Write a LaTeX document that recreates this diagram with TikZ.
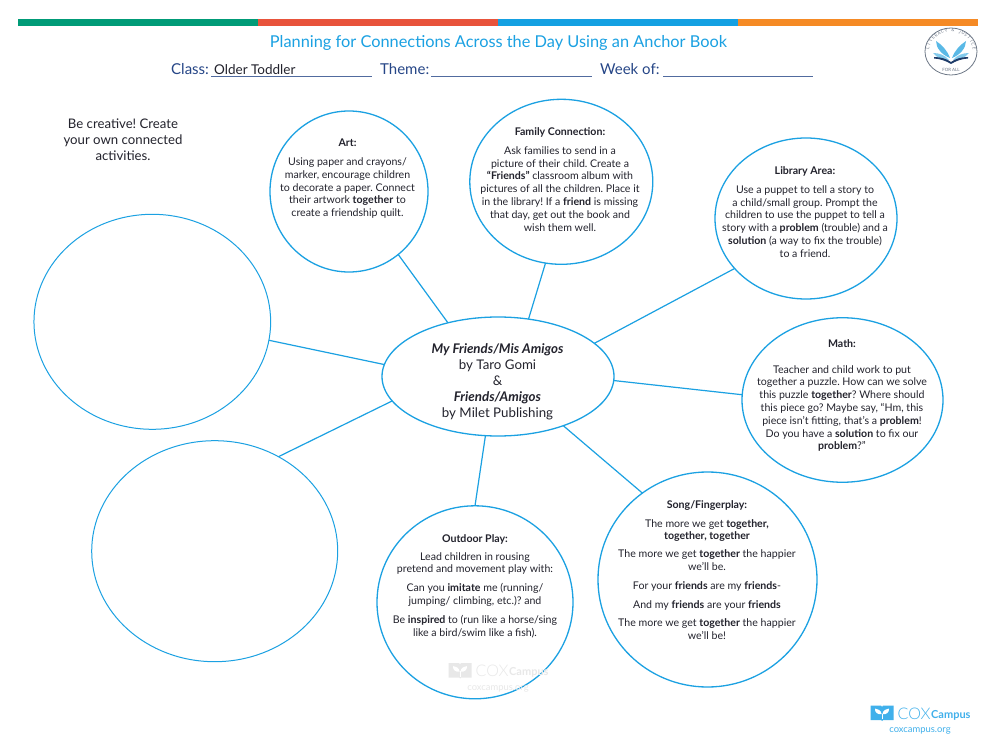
\documentclass[tikz,border=0pt]{standalone}
\usepackage{fontspec}
\setmainfont{Lato}
\newfontfamily\lightfont{Lato Light}
\usepackage{xcolor}
\usetikzlibrary{shapes.geometric}
\definecolor{BarGreen}{RGB}{0, 155, 119}
\definecolor{BarRed}{RGB}{232, 83, 59}
\definecolor{BarBlue}{RGB}{20, 160, 226}
\definecolor{BarOrange}{RGB}{245, 138, 37}
\definecolor{BubbleBlue}{RGB}{27, 161, 226}
\definecolor{FormBlue}{RGB}{38, 70, 135}
\definecolor{DarkText}{RGB}{35, 35, 45}
\definecolor{SealGray}{RGB}{110, 120, 135}
\definecolor{SealSky}{RGB}{90, 185, 230}
\definecolor{SealNavy}{RGB}{30, 60, 105}
\definecolor{LogoBlue}{RGB}{64, 176, 235}
\definecolor{MarkGray}{RGB}{232, 232, 232}
\newcommand{\boldword}[1]{\textbf{#1}}
\tikzset{
  bubble/.style={draw=BubbleBlue, line width=1.3pt, ellipse, inner sep=0pt, outer sep=0pt},
  blankbubble/.style={bubble, line width=1pt},
  spoke/.style={draw=BubbleBlue, line width=1.2pt},
  colorbar/.style={inner sep=0pt, minimum height=7pt, minimum width=240pt},
  bubbletext/.style={align=center, text=DarkText, inner sep=0pt, font=\fontsize{10.6}{12.8}\selectfont\frenchspacing},
  formtext/.style={anchor=base west, inner sep=0pt, text=FormBlue, font=\fontsize{15}{18}\selectfont},
  formline/.style={draw=FormBlue!80, line width=0.9pt},
  pics/coxmark/.style={code={
    \fill[#1] (-11.5,-8) -- (-1,-8) -- (0,-6.5) -- (1,-8) -- (11.5,-8) -- (11.5,6.5) -- (1,6.5) -- (0,7.5) -- (-1,6.5) -- (-11.5,6.5) -- cycle;
    \fill[white] (-0.4,0.5) .. controls (-1,-3) and (-4,-5) .. (-7,-5) .. controls (-7.5,-1) and (-4,1.5) .. cycle;
    \fill[white] (0.4,0.5) .. controls (1,-3) and (4,-5) .. (7,-5) .. controls (7.5,-1) and (4,1.5) .. cycle;
    \draw[white, line width=1pt] (0,0) -- (0,5.5);
    \node[anchor=base west, inner sep=0pt, text=#1, font=\lightfont\fontsize{16}{16}\selectfont] at (15.5,5.5) {COX};
    \node[anchor=base west, inner sep=0pt, text=#1, font=\bfseries\fontsize{11}{12}\selectfont] at (49,4.5) {Campus};
    \node[anchor=base, inner sep=0pt, text=#1, font=\fontsize{9.4}{12}\selectfont] at (38,19) {coxcampus.org};
  }}
}

\begin{document}
\begin{tikzpicture}[x=1pt, y=-1pt]
  \useasboundingbox[fill=white] (0,0) rectangle (994,754);

  % top stripe
  \node[colorbar, fill=BarGreen] (bargreen) at (138,22.5) {};
  \node[colorbar, fill=BarRed] (barred) at (378,22.5) {};
  \node[colorbar, fill=BarBlue] (barblue) at (618,22.5) {};
  \node[colorbar, fill=BarOrange] (barorange) at (858,22.5) {};

  % heading
  \node[inner sep=0pt, text=BubbleBlue, font=\fontsize{16.35}{20}\selectfont] (title) at (498.5,42.5) {Planning for Connections Across the Day Using an Anchor Book};
  \node[formtext] (classlabel) at (171,75) {Class:};
  \node[formtext, text=DarkText, font=\fontsize{13.5}{16}\selectfont] (classvalue) at (214,74.5) {Older Toddler};
  \node[formtext] (themelabel) at (380,75) {Theme:};
  \node[formtext] (weeklabel) at (600,75) {Week of:};
  \coordinate (classa) at (211,76);
  \coordinate (classb) at (372,76);
  \coordinate (themea) at (431,76);
  \coordinate (themeb) at (592,76);
  \coordinate (weeka) at (663,76);
  \coordinate (weekb) at (813,76);
  \draw[formline] (classa) -- (classb);
  \draw[formline] (themea) -- (themeb);
  \draw[formline] (weeka) -- (weekb);

  % seal
  \node[ellipse, draw=SealGray, line width=0.8pt, minimum width=52pt, minimum height=47pt, inner sep=0pt] (seal) at (951,51.5) {};
  \fill[SealSky] (950,58) .. controls (947,50) and (942,45) .. (936,41) .. controls (936,48) and (942,55) .. cycle;
  \fill[SealSky] (952,58) .. controls (955,50) and (960,45) .. (966,41) .. controls (966,48) and (960,55) .. cycle;
  \fill[SealSky!75] (949,60) .. controls (945,55) and (939,53) .. (933,53) .. controls (937,58) and (943,60) .. cycle;
  \fill[SealSky!75] (953,60) .. controls (957,55) and (963,53) .. (969,53) .. controls (965,58) and (959,60) .. cycle;
  \fill[SealNavy] (934,57) .. controls (941,57) and (947,59) .. (951,62) .. controls (955,59) and (961,57) .. (968,57) -- (968,58.5) .. controls (961,59) and (956,61) .. (951,64) .. controls (946,61) and (941,59) .. (934,58.5) -- cycle;
  \foreach \letter [count=\i] in {L,I,T,E,R,A,C,Y,{},\&,{},J,U,S,T,I,C,E} {
    \pgfmathsetmacro{\ang}{172-(\i-1)*9.6}
    \node[anchor=north, rotate=\ang-90, inner sep=1.2pt, text=SealGray, font=\fontsize{4.2}{5}\selectfont] at (seal.\ang) {\letter};
  }
  \node[inner sep=0pt, text=SealGray, font=\fontsize{4.4}{5}\selectfont] (sealfoot) at (951,70) {FOR ALL};

  % note
  \node[align=center, inner sep=0pt, text=DarkText, font=\fontsize{13.2}{16}\selectfont\frenchspacing] (note) at (123,139.5) {Be creative! Create\\your own connected\\activities.};

  % bubbles
  \node[bubble, minimum width=232pt, minimum height=119pt] (hub) at (498,376.5) {};
  \node[bubble, minimum width=158pt, minimum height=161pt] (art) at (349,191.5) {};
  \node[bubble, minimum width=183pt, minimum height=165pt] (family) at (561.3,181.8) {};
  \node[bubble, minimum width=182pt, minimum height=161pt] (library) at (806,218.5) {};
  \node[bubble, minimum width=201pt, minimum height=164.5pt] (math) at (842.5,400) {};
  \node[bubble, minimum width=219pt, minimum height=215pt] (song) at (707.5,579.5) {};
  \node[bubble, minimum width=196pt, minimum height=193pt] (outdoor) at (475,602.3) {};
  \node[blankbubble, minimum width=236.7pt, minimum height=215pt] (blanka) at (152.3,321.8) {};
  \node[blankbubble, minimum width=246pt, minimum height=221pt] (blankb) at (214.7,551.2) {};

  % spokes
  \draw[spoke] (hub.133.3) -- (art.-52.5);
  \draw[spoke] (hub.62.2) -- (family.259.5);
  \draw[spoke] (hub.19.8) -- (library.215.4);
  \draw[spoke] (hub.-2.6) -- (math.177.5);
  \draw[spoke] (hub.-37.3) -- (song.127.2);
  \draw[spoke] (hub.258.6) -- (outdoor.90);
  \draw[spoke] (hub.174.2) -- (blanka.-9.7);
  \draw[spoke] (hub.193.3) -- (blankb.56.3);

  % bubble texts
  \node[align=center, inner sep=0pt, text=DarkText, font=\fontsize{13.3}{16.1}\selectfont] (hubtext) at (497.5,381.5) {\textbf{\textit{My Friends/Mis Amigos}}\\by Taro Gomi\\\&\\\textbf{\textit{Friends/Amigos}}\\by Milet Publishing};
  \node[bubbletext] (arttext) at (347.5,178.5) {\textbf{Art:}\\[6.5pt]Using paper and crayons/\\marker, encourage children\\to decorate a paper. Connect\\their artwork \boldword{together} to\\create a friendship quilt.};
  \node[bubbletext] (familytext) at (560,179.5) {\textbf{Family Connection:}\\[6pt]Ask families to send in a\\picture of their child. Create a\\\boldword{“Friends”} classroom album with\\pictures of all the children. Place it\\in the library! If a \boldword{friend} is missing\\that day, get out the book and\\wish them well.};
  \node[bubbletext] (librarytext) at (805,212) {\textbf{Library Area:}\\[6pt]Use a puppet to tell a story to\\a child/small group. Prompt the\\children to use the puppet to tell a\\story with a \boldword{problem} (trouble) and a\\\boldword{solution} (a way to fix the trouble)\\to a friend.};
  \node[bubbletext] (mathtext) at (842,395.5) {\textbf{Math:}\\[13pt]Teacher and child work to put\\together a puzzle. How can we solve\\this puzzle \boldword{together}? Where should\\this piece go? Maybe say, “Hm, this\\piece isn’t fitting, that’s a \boldword{problem}!\\Do you have a \boldword{solution} to fix our\\\boldword{problem}?”};
  \node[bubbletext] (songtext) at (707,570) {\textbf{Song/Fingerplay:}\\[6pt]The more we get \boldword{together,}\\\boldword{together, together}\\[5pt]The more we get \boldword{together} the happier\\we’ll be.\\[6pt]For your \boldword{friends} are my \boldword{friends}-\\[6pt]And my \boldword{friends} are your \boldword{friends}\\[6pt]The more we get \boldword{together} the happier\\we’ll be!};
  \node[bubbletext] (outdoortext) at (475,586) {\textbf{Outdoor Play:}\\[5pt]Lead children in rousing\\pretend and movement play with:\\[6pt]Can you \boldword{imitate} me (running/\\jumping/ climbing, etc.)? and\\[6pt]Be \boldword{inspired} to (run like a horse/sing\\like a bird/swim like a fish).};

  % logos
  \pic at (460,671) {coxmark=MarkGray};
  \pic at (882,713.5) {coxmark=LogoBlue};
\end{tikzpicture}
\end{document}
